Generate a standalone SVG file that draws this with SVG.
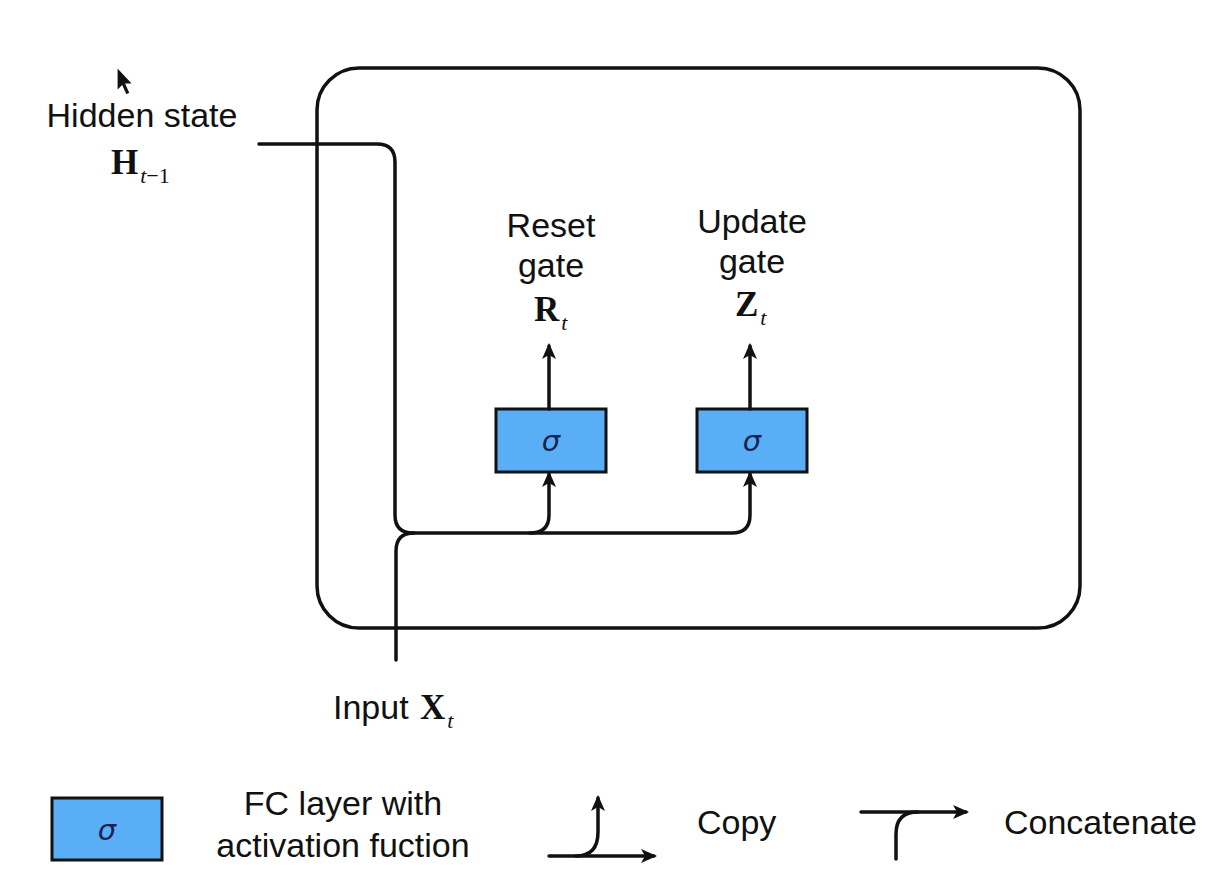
<svg xmlns="http://www.w3.org/2000/svg" width="1221" height="889" viewBox="0 0 1221 889">
<style>
.t{font-family:"Liberation Sans",Arial,sans-serif;font-size:34px;fill:#111}
.m{font-family:"Liberation Serif","Times New Roman",serif;font-weight:bold;font-size:35px;fill:#111}
.s{font-family:"Liberation Serif","Times New Roman",serif;font-style:italic;font-weight:normal;font-size:22px;fill:#111}
.n{font-family:"Liberation Serif","Times New Roman",serif;font-weight:normal;font-size:22px;fill:#111}
.sig{font-family:"DejaVu Sans",sans-serif;font-style:italic;font-size:29px;fill:#1a2350}
.box{fill:#5aaef5;stroke:#111;stroke-width:3}
.ln{fill:none;stroke:#111;stroke-width:3.5;stroke-linecap:round}
</style>
<defs>
<marker id="ah" viewBox="0 0 16 14" refX="13" refY="7" markerWidth="16" markerHeight="14" orient="auto" markerUnits="userSpaceOnUse">
<path d="M0,0 L16,7 L0,14 L4,7 Z" fill="#111"/>
</marker>
</defs>
<rect width="1221" height="889" fill="#fff"/>
<polygon points="117,67 117,91 122,86 126,95 130,93 126,84 133,84" fill="#111" stroke="#fff" stroke-width="1.2"/>
<g id="cell"><rect x="317" y="68" width="763" height="560" rx="42" fill="none" stroke="#111" stroke-width="3.5"/></g>
<g id="hidden-label">
<text class="t" x="142" y="127" text-anchor="middle">Hidden state</text>
<text class="m" x="111" y="174">H<tspan class="s" dy="9" dx="2">t</tspan><tspan class="n">−1</tspan></text>
</g>
<g id="input-label">
<text class="t" x="333" y="719">Input <tspan class="m" dx="2">X</tspan><tspan class="s" dy="9" dx="2">t</tspan></text>
</g>
<g id="reset-gate">
<rect class="box" x="496" y="409" width="110" height="63"/>
<text class="sig" x="551" y="451" text-anchor="middle">σ</text>
<text class="t" x="551" y="237" text-anchor="middle">Reset</text>
<text class="t" x="551" y="277" text-anchor="middle">gate</text>
<text class="m" x="534" y="321">R<tspan class="s" dy="9" dx="2">t</tspan></text>
</g>
<g id="update-gate">
<rect class="box" x="697" y="409" width="110" height="63"/>
<text class="sig" x="752" y="451" text-anchor="middle">σ</text>
<text class="t" x="752" y="233" text-anchor="middle">Update</text>
<text class="t" x="752" y="273" text-anchor="middle">gate</text>
<text class="m" x="735" y="316">Z<tspan class="s" dy="9" dx="2">t</tspan></text>
</g>
<g id="connectors">
<path class="ln" d="M259,144 H377 Q395,144 395,162 V515 Q395,533 413,533 H732 Q750,533 750,515 V474" marker-end="url(#ah)"/>
<path class="ln" d="M530,533 Q549,533 549,515 V474" marker-end="url(#ah)"/>
<path class="ln" d="M396,660 V551 Q396,533 414,533"/>
<path class="ln" d="M549,409 V346" marker-end="url(#ah)"/>
<path class="ln" d="M750,409 V346" marker-end="url(#ah)"/>
</g>
<g id="legend">
<g id="legend-fc">
<rect class="box" x="52" y="798" width="110" height="62"/>
<text class="sig" x="107" y="840" text-anchor="middle">σ</text>
<text class="t" x="343" y="815" text-anchor="middle">FC layer with</text>
<text class="t" x="343" y="857" text-anchor="middle">activation fuction</text>
</g>
<g id="legend-copy">
<path class="ln" d="M549,856 H654" marker-end="url(#ah)"/>
<path class="ln" d="M576,856 Q598,856 598,832 V798" marker-end="url(#ah)"/>
<text class="t" x="697" y="834">Copy</text>
</g>
<g id="legend-concat">
<path class="ln" d="M861,812 H966" marker-end="url(#ah)"/>
<path class="ln" d="M896,859 V834 Q896,812 918,812"/>
<text class="t" x="1004" y="834">Concatenate</text>
</g>
</g>
</svg>
